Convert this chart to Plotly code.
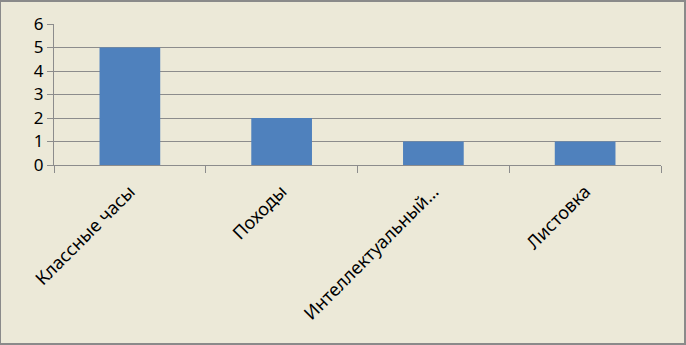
import plotly.graph_objects as go

categories = ["Классные часы", "Походы", "Интеллектуальный…", "Листовка"]
values = [5, 2, 1, 1]
y_ticks = [0, 1, 2, 3, 4, 5, 6]

bg = "#ECE9D8"
grid = "#8C8C8C"

fig = go.Figure(go.Bar(x=categories, y=values, marker=dict(color="#4F81BD", line=dict(width=0)), width=0.4))

fig.update_layout(
    width=686, height=345,
    margin=dict(l=54, r=25, t=24, b=180),
    paper_bgcolor=bg, plot_bgcolor=bg,
    font=dict(family="Noto Sans, DejaVu Sans, sans-serif", size=15, color="#000000"),
    showlegend=False,
)
fig.update_layout(shapes=[dict(type="rect", xref="x domain", yref="y domain",
                               x0=-54/607, x1=(607+24)/607, y0=-179/141, y1=(141+23)/141,
                               line=dict(color="#8A8A8A", width=2))])
fig.update_xaxes(
    type="category", tickangle=-45, showline=True, linecolor=grid, linewidth=1,
    ticks="outside", tickson="boundaries", ticklen=7, tickcolor=grid,
    showgrid=False, tickfont=dict(size=18), ticklabelstandoff=8,
)
fig.update_yaxes(
    range=[0, 6], tickvals=y_ticks, showline=True, linecolor=grid, linewidth=1,
    ticks="outside", ticklen=6, tickcolor=grid, gridcolor=grid, gridwidth=1,
    zeroline=False, tickfont=dict(size=17),
)

fig.write_html("out.html")
